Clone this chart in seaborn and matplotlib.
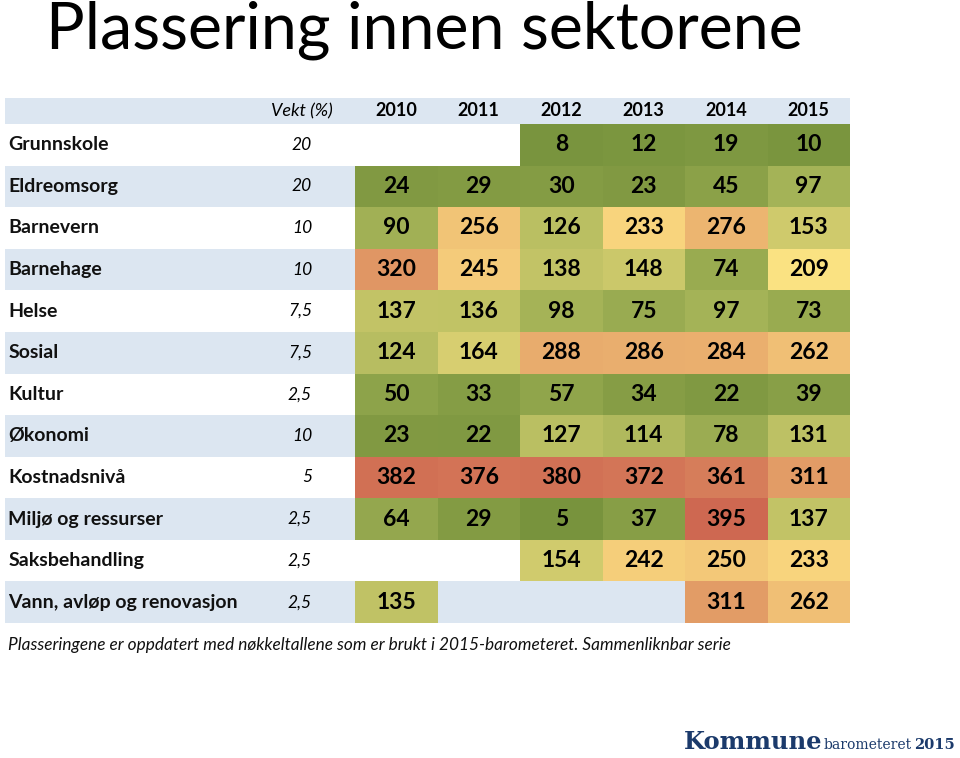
import numpy as np
import pandas as pd
import matplotlib
matplotlib.use("Agg")
import matplotlib.pyplot as plt
from matplotlib.colors import LinearSegmentedColormap
import seaborn as sns

# ---- data ----
sectors = ["Grunnskole", "Eldreomsorg", "Barnevern", "Barnehage", "Helse", "Sosial",
           "Kultur", "Økonomi", "Kostnadsnivå", "Miljø og ressurser",
           "Saksbehandling", "Vann, avløp og renovasjon"]
weights = ["20", "20", "10", "10", "7,5", "7,5", "2,5", "10", "5", "2,5", "2,5", "2,5"]
years = ["2010", "2011", "2012", "2013", "2014", "2015"]
nan = np.nan
v2010 = [nan, 24, 90, 320, 137, 124, 50, 23, 382, 64, nan, 135]
v2011 = [nan, 29, 256, 245, 136, 164, 33, 22, 376, 29, nan, nan]
v2012 = [8, 30, 126, 138, 98, 288, 57, 127, 380, 5, 154, nan]
v2013 = [12, 23, 233, 148, 75, 286, 34, 114, 372, 37, 242, nan]
v2014 = [19, 45, 276, 74, 97, 284, 22, 78, 361, 395, 250, 311]
v2015 = [10, 97, 153, 209, 73, 262, 39, 131, 311, 137, 233, 262]

df = pd.DataFrame({"2010": v2010, "2011": v2011, "2012": v2012,
                   "2013": v2013, "2014": v2014, "2015": v2015}, index=sectors)

sns.set_theme(style="white")
plt.rcParams["font.family"] = ["Lato", "DejaVu Sans"]

W, H = 960, 758
fig = plt.figure(figsize=(W / 100, H / 100), dpi=100)

# table geometry in pixels
tx0, tx1 = 5, 850
ty0, ty1 = 98, 623
col_x0 = 355
colw = (tx1 - col_x0) / 6.0
rowh = (ty1 - 124) / 12.0
hdr = (124 - ty0) / rowh
xleft = (tx0 - col_x0) / colw

ax = fig.add_axes([tx0 / W, 1 - ty1 / H, (tx1 - tx0) / W, (ty1 - ty0) / H])

blue = "#dce6f1"
ax.axhspan(-hdr, 0, color=blue, zorder=0, lw=0)
for i in range(len(sectors)):
    ax.axhspan(i, i + 1, color=(blue if i % 2 == 1 else "white"), zorder=0, lw=0)

cmap = LinearSegmentedColormap.from_list(
    "kb", [(0.0, "#76923c"), (0.25, "#a6b458"), (0.53, "#fde383"),
           (0.78, "#e29b66"), (1.0, "#cd6550")])

sns.heatmap(df, ax=ax, cmap=cmap, vmin=1, vmax=400, mask=df.isna(), cbar=False,
            annot=True, fmt=".0f", linewidths=0,
            annot_kws={"fontsize": 16.5, "fontweight": "bold", "color": "black"})

ax.set_xlim(xleft, 6)
ax.set_ylim(12, -hdr)
ax.axis("off")

# header
ax.text(-0.27, -hdr / 2, "Vekt (%)", ha="right", va="center", fontsize=13,
        style="italic", color="black")
for j, y in enumerate(years):
    ax.text(j + 0.5, -hdr / 2, y, ha="center", va="center", fontsize=13,
            fontweight="bold", color="black")

# row labels and weights
for i, (s, w) in enumerate(zip(sectors, weights)):
    ax.text(xleft + 0.04, i + 0.5, s, ha="left", va="center", fontsize=14,
            fontweight="bold", color="#111111")
    ax.text(-0.52, i + 0.5, w, ha="right", va="center", fontsize=12.5,
            style="italic", color="black")

# title
fig.text(46 / W, 1 - 30 / H, "Plassering innen sektorene", ha="left", va="center",
         fontsize=46.5, color="black")

# footnote
fig.text(8 / W, 1 - 645 / H,
         "Plasseringene er oppdatert med nøkkeltallene som er brukt i 2015-barometeret. Sammenliknbar serie",
         ha="left", va="center", fontsize=12.4, style="italic", color="#111111")

# logo: right-aligned pieces ending at x=955
navy = "#1b3a6b"
fig.canvas.draw()
r = fig.canvas.get_renderer()
base = 1 - 749 / H
t3 = fig.text(955 / W, base, "2015", ha="right", va="baseline",
              fontsize=10.5, fontweight="bold", family="DejaVu Serif", color=navy)
bb3 = t3.get_window_extent(r)
t2 = fig.text((bb3.x0 - 3) / W, base, "barometeret", ha="right", va="baseline",
              fontsize=10, family="DejaVu Serif", color=navy)
bb2 = t2.get_window_extent(r)
t1 = fig.text((bb2.x0 - 1) / W, base, "Kommune", ha="right", va="baseline",
              fontsize=17.5, fontweight="bold", family="DejaVu Serif", color=navy)

fig.savefig("out.png", dpi=100)
